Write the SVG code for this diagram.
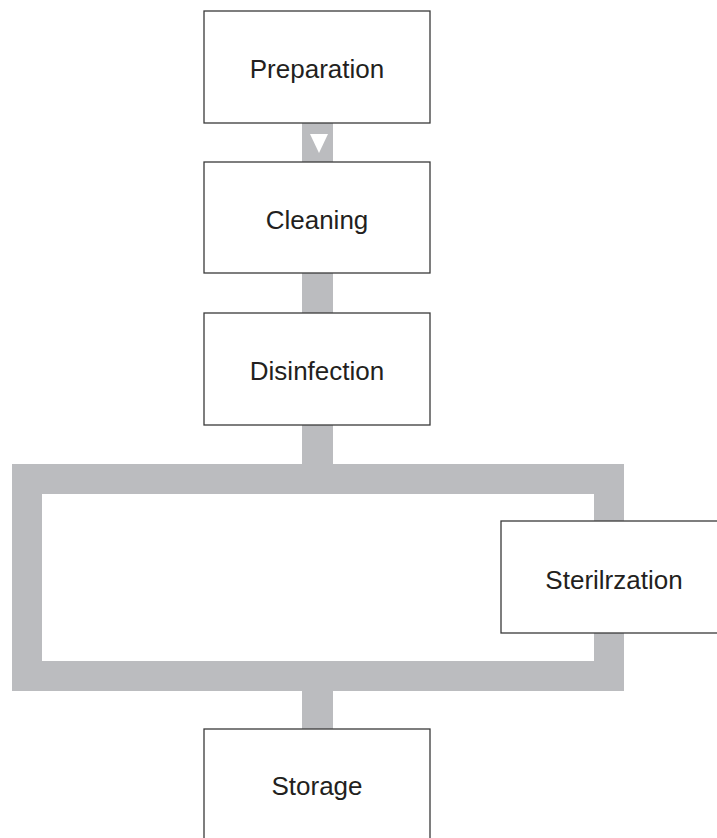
<svg xmlns="http://www.w3.org/2000/svg" width="717" height="838" viewBox="0 0 717 838">
<style>
.box{fill:#fff;stroke:#3a3a3a;stroke-width:1.3}
.lbl{font-family:"Liberation Sans",Arial,sans-serif;font-size:26px;fill:#231f20;text-anchor:middle}
.bar{fill:#bbbcbf}
</style>
<rect width="717" height="838" fill="#fff"/>
<g id="connectors">
<rect class="bar" x="302" y="123" width="31" height="40"/>
<polygon points="310,134 328,134 319,153" fill="#fff"/>
<rect class="bar" x="302" y="273" width="31" height="40"/>
<rect class="bar" x="302" y="425" width="31" height="40"/>
<path class="bar" fill-rule="evenodd" d="M12,464H624V691H12Z M42,494V661H594V494Z"/>
<rect class="bar" x="302" y="690" width="31" height="40"/>
</g>
<g id="preparation">
<rect class="box" x="204" y="11" width="226" height="112"/>
<text class="lbl" x="317" y="78">Preparation</text>
</g>
<g id="cleaning">
<rect class="box" x="204" y="162" width="226" height="111"/>
<text class="lbl" x="317" y="229">Cleaning</text>
</g>
<g id="disinfection">
<rect class="box" x="204" y="313" width="226" height="112"/>
<text class="lbl" x="317" y="380">Disinfection</text>
</g>
<g id="sterilization">
<rect class="box" x="501" y="521" width="230" height="112"/>
<text class="lbl" x="614" y="589">Sterilrzation</text>
</g>
<g id="storage">
<rect class="box" x="204" y="729" width="226" height="120"/>
<text class="lbl" x="317" y="795">Storage</text>
</g>
</svg>
